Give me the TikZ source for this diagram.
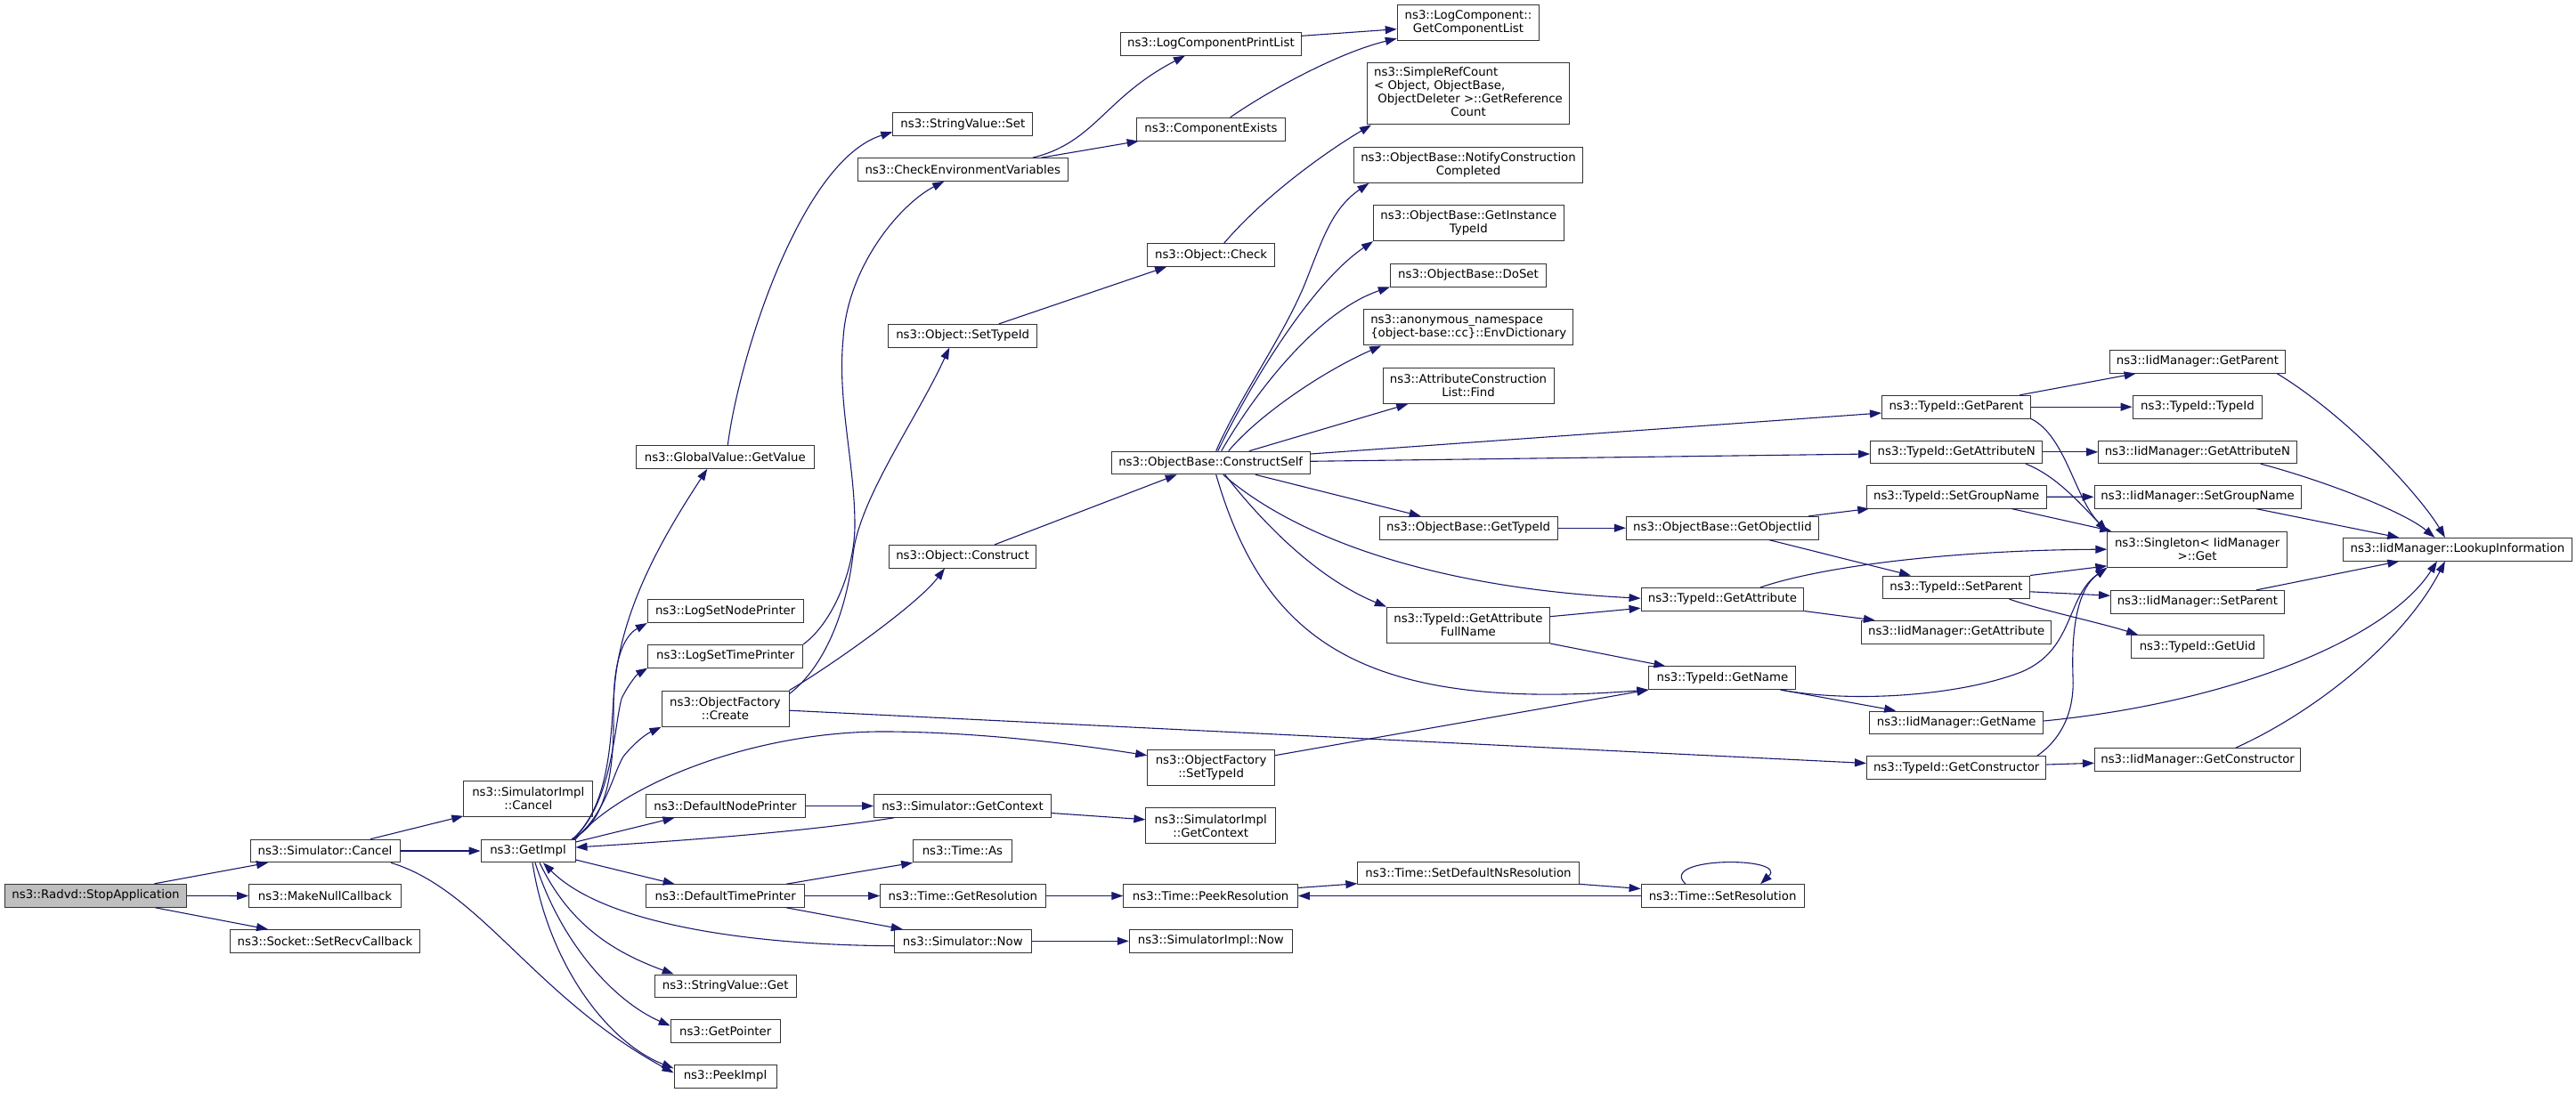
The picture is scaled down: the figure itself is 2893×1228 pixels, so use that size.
\documentclass[tikz,border=0pt]{standalone}
\usepackage{fontspec}
\setmainfont{DejaVu Sans}
\usetikzlibrary{arrows.meta}
\definecolor{mblue}{HTML}{191970}
\definecolor{rootfill}{HTML}{BFBFBF}
\definecolor{nborder}{HTML}{333333}
\newcommand\mynode[6][]{\node[box,minimum width=#4pt,minimum height=#5pt,#1] (#2) at (#3) {#6};}
\begin{document}
\begin{tikzpicture}[x=1pt,y=-1pt,
  boxbase/.style={draw=nborder,line width=1pt,fill=white,inner sep=0pt,font=\fontsize{13.3}{15}\selectfont},
  box/.style={boxbase,align=center},
  lbox/.style={boxbase,align=left},
  root/.style={fill=rootfill},
  edge/.style={draw=mblue,line width=1.1pt,-{Triangle[length=13pt,width=9pt]}}]
\useasboundingbox (0,0) rectangle (2893,1228);
% column 1-3
\mynode[root]{radvd}{107.5,1006.3}{204}{26}{ns3::Radvd::StopApplication}
\mynode{simcancel}{365,956}{168}{25.6}{ns3::Simulator::Cancel}
\mynode{makenull}{365,1006.5}{170.6}{25.6}{ns3::MakeNullCallback}
\mynode{setrecv}{365,1057.3}{213}{25.6}{ns3::Socket::SetRecvCallback}
\mynode{simimplcancel}{593.3,897.2}{145}{40.3}{ns3::SimulatorImpl\\::Cancel}
\mynode{getimpl}{593,956}{106}{25.6}{ns3::GetImpl}
% column 4
\mynode{globalget}{814.3,513.5}{199.7}{25.6}{ns3::GlobalValue::GetValue}
\mynode{lognode}{814.7,686.7}{174.8}{25.6}{ns3::LogSetNodePrinter}
\mynode{logtime}{814.7,737.2}{173.8}{25.6}{ns3::LogSetTimePrinter}
\mynode{ofcreate}{814.5,796.2}{143}{40.3}{ns3::ObjectFactory\\::Create}
\mynode{defnode}{814.5,905.5}{179}{25.6}{ns3::DefaultNodePrinter}
\mynode{deftime}{814.7,1006.5}{177.6}{25.6}{ns3::DefaultTimePrinter}
\mynode{stringget}{814.7,1107.8}{159}{25.6}{ns3::StringValue::Get}
\mynode{getpointer}{814.7,1158.5}{123}{25.6}{ns3::GetPointer}
\mynode{peekimpl}{814.5,1209.3}{115}{25.6}{ns3::PeekImpl}
% column 5
\mynode{stringset}{1081.3,139.8}{157}{25.6}{ns3::StringValue::Set}
\mynode{checkenv}{1081.2,190.5}{236.3}{25.6}{ns3::CheckEnvironmentVariables}
\mynode{objsettypeid}{1081.2,377.2}{167}{25.6}{ns3::Object::SetTypeId}
\mynode{objconstruct}{1081,625.2}{165.5}{25.6}{ns3::Object::Construct}
\mynode{simgetctx}{1081,905.5}{199}{25.6}{ns3::Simulator::GetContext}
\mynode{timeas}{1080.9,956}{110.5}{25.6}{ns3::Time::As}
\mynode{getres}{1081.3,1006.5}{185.4}{25.6}{ns3::Time::GetResolution}
\mynode{simnow}{1081.3,1057.3}{154}{25.6}{ns3::Simulator::Now}
% column 6
\mynode{printlist}{1359.9,49.3}{203.5}{25.6}{ns3::LogComponentPrintList}
\mynode{compexists}{1359.9,145.2}{167.4}{25.6}{ns3::ComponentExists}
\mynode{objcheck}{1360.1,286.5}{142.8}{25.6}{ns3::Object::Check}
\mynode{constructself}{1359.7,520}{223.3}{25.6}{ns3::ObjectBase::ConstructSelf}
\mynode{ofsettypeid}{1360.1,862.7}{142.8}{40.3}{ns3::ObjectFactory\\::SetTypeId}
\mynode{simimplgetctx}{1359.7,927.8}{145.7}{40.3}{ns3::SimulatorImpl\\::GetContext}
\mynode{peekres}{1359.6,1006.5}{195.6}{25.6}{ns3::Time::PeekResolution}
\mynode{simimplnow}{1359.8,1057.3}{183.1}{25.6}{ns3::SimulatorImpl::Now}
% column 7
\mynode{getcomplist}{1649,25.2}{159.5}{40.3}{ns3::LogComponent::\\GetComponentList}
\node[boxbase,minimum width=227pt,minimum height=69.3pt] (simpleref) at (1649,105.3)
  {\begin{tabular}{@{}l@{}}ns3::SimpleRefCount\\{<} Object, ObjectBase,\\\ ObjectDeleter {>}::GetReference\\\multicolumn{1}{@{}c@{}}{Count}\end{tabular}};
\mynode{notify}{1649,185.2}{257.5}{40.3}{ns3::ObjectBase::NotifyConstruction\\Completed}
\mynode{getinst}{1649.3,250.5}{213.6}{40.3}{ns3::ObjectBase::GetInstance\\TypeId}
\mynode{doset}{1649,309.2}{175.3}{25.6}{ns3::ObjectBase::DoSet}
\mynode[lbox]{envdict}{1649.2,367.8}{235}{40.3}{ns3::anonymous\_namespace\\\{object-base::cc\}::EnvDictionary}
\mynode{attrfind}{1649,433.3}{192}{40.3}{ns3::AttributeConstruction\\List::Find}
\mynode{obgettypeid}{1649.1,593.2}{200.2}{25.6}{ns3::ObjectBase::GetTypeId}
\mynode{tgetattrfull}{1648.9,702.3}{183}{40.3}{ns3::TypeId::GetAttribute\\FullName}
\mynode{setdefns}{1649,981}{248.3}{25.6}{ns3::Time::SetDefaultNsResolution}
% column 8
\mynode{obgetiid}{1934.4,593.2}{216}{25.6}{ns3::ObjectBase::GetObjectIid}
\mynode{tgetattr}{1934.4,673.2}{182.7}{25.6}{ns3::TypeId::GetAttribute}
\mynode{tgetname}{1934.4,761.7}{165}{25.6}{ns3::TypeId::GetName}
\mynode{setres}{1934.6,1006.5}{183}{25.6}{ns3::Time::SetResolution}
% column 9
\mynode{tgetparent}{2197,457.2}{167}{25.6}{ns3::TypeId::GetParent}
\mynode{tgetattrn}{2197.2,507.8}{193.2}{25.6}{ns3::TypeId::GetAttributeN}
\mynode{tsetgroup}{2197.2,558.2}{202.4}{25.6}{ns3::TypeId::SetGroupName}
\mynode{tsetparent}{2197,659.8}{165}{25.6}{ns3::TypeId::SetParent}
\mynode{igetattr}{2197.2,710.3}{213.5}{25.6}{ns3::IidManager::GetAttribute}
\mynode{igetname}{2197.2,811.8}{195}{25.6}{ns3::IidManager::GetName}
\mynode{tgetctor}{2197.2,862.5}{201.5}{25.6}{ns3::TypeId::GetConstructor}
% column 10
\mynode{igetparent}{2467.9,406.3}{197.5}{25.6}{ns3::IidManager::GetParent}
\mynode{ttypeid}{2467.9,457.2}{145.7}{25.6}{ns3::TypeId::TypeId}
\mynode{igetattrn}{2467.9,507.8}{222.4}{25.6}{ns3::IidManager::GetAttributeN}
\mynode{isetgroup}{2468.1,558.3}{232.2}{25.6}{ns3::IidManager::SetGroupName}
\mynode{singleton}{2467.6,617.2}{201.6}{40.3}{ns3::Singleton{<} IidManager\\{>}::Get}
\mynode{isetparent}{2467.9,676.2}{194.7}{25.6}{ns3::IidManager::SetParent}
\mynode{tgetuid}{2467.9,726.5}{148.4}{25.6}{ns3::TypeId::GetUid}
\mynode{igetctor}{2468.1,853.5}{231.2}{25.6}{ns3::IidManager::GetConstructor}
% column 11
\mynode{lookup}{2759.9,617.3}{256.2}{25.6}{ns3::IidManager::LookupInformation}

% edges
\draw[edge] ([xshift=66pt]radvd.north) -- ([xshift=-64pt]simcancel.south);
\draw[edge] (radvd.east) -- (makenull.west);
\draw[edge] ([xshift=67pt]radvd.south) -- ([xshift=-64pt]setrecv.north);
\draw[edge] ([xshift=51pt]simcancel.north) -- ([yshift=1pt]simimplcancel.south west);
\draw[edge] (simcancel.east) -- (getimpl.west);
\draw[edge] ([xshift=74pt]simcancel.south) .. controls (540,1000) and (600,1120) .. ([yshift=4pt]peekimpl.west);
\draw[edge] ([xshift=49pt]getimpl.north) .. controls (680,925) and (690,870) .. (689,800) .. controls (688,700) and (740,610) .. ([xshift=-20pt]globalget.south);
\draw[edge] ([xshift=50pt]getimpl.north) .. controls (685,905) and (686,830) .. (690,770) .. controls (693,730) and (705,712) .. (lognode.south west);
\draw[edge] ([xshift=51pt]getimpl.north) .. controls (688,900) and (689,820) .. (698,785) .. controls (705,770) and (715,758) .. (logtime.south west);
\draw[edge] ([xshift=52pt]getimpl.north) .. controls (680,915) and (688,870) .. (700,850) .. controls (712,835) and (725,825) .. (ofcreate.south west);
\draw[edge] (getimpl.north east) .. controls (700,880) and (850,820) .. (1000,822) .. controls (1100,823) and (1200,835) .. ([yshift=14pt]ofsettypeid.west);
\draw[edge] ([yshift=10pt]getimpl.east) -- ([xshift=-57pt]defnode.south);
\draw[edge] ([yshift=-10pt]getimpl.east) -- ([xshift=-57pt]deftime.north);
\draw[edge] ([xshift=13pt]getimpl.south) .. controls (640,1040) and (690,1070) .. ([xshift=22pt]stringget.north west);
\draw[edge] ([xshift=8pt]getimpl.south) .. controls (630,1060) and (690,1125) .. ([yshift=6pt]getpointer.west);
\draw[edge] ([xshift=5pt]getimpl.south) .. controls (615,1080) and (680,1170) .. ([yshift=9pt]peekimpl.west);
\draw[edge] ([xshift=23pt]simgetctx.south west) .. controls (900,935) and (760,945) .. ([yshift=4pt]getimpl.east);
\draw[edge] ([yshift=-5.4pt]simnow.west) .. controls (850,1062) and (680,1040) .. ([xshift=17pt]getimpl.south);
\draw[edge] ([xshift=3pt]globalget.north) .. controls (830,400) and (900,180) .. ([yshift=-8.5pt]stringset.west);
\draw[edge] (logtime.north east) .. controls (935,700) and (960,640) .. (960,590) .. controls (960,520) and (940,450) .. (947,380) .. controls (952,300) and (1010,230) .. ([xshift=-21pt]checkenv.south);
\draw[edge] ([yshift=-4pt]ofcreate.north east) .. controls (925,750) and (950,690) .. (958,623) .. controls (965,560) and (1030,470) .. ([xshift=-15pt]objsettypeid.south);
\draw[edge] (ofcreate.north east) .. controls (930,750) and (1030,680) .. ([xshift=-20pt]objconstruct.south);
\draw[edge] ([yshift=-2pt]ofcreate.east) -- ([yshift=5pt]tgetctor.west);
\draw[edge] ([yshift=14pt]ofsettypeid.east) -- (tgetname.south west);
\draw[edge] ([xshift=36pt]objconstruct.north) -- ([xshift=-38pt]constructself.south);
\draw[edge] ([xshift=40.5pt]objsettypeid.north) -- ([xshift=-50pt]objcheck.south);
\draw[edge] ([xshift=14.6pt]objcheck.north) .. controls (1420,220) and (1490,170) .. ([xshift=5pt]simpleref.south west);
\draw[edge] ([xshift=78.5pt]checkenv.north) .. controls (1230,160) and (1240,110) .. ([xshift=-29pt]printlist.south);
\draw[edge] ([xshift=88pt]checkenv.north) -- ([xshift=3pt]compexists.south west);
\draw[edge] ([yshift=9pt]printlist.east) -- ([yshift=-7.5pt]getcomplist.west);
\draw[edge] ([xshift=21.7pt]compexists.north) .. controls (1420,105) and (1500,60) .. ([yshift=-18pt]getcomplist.west);
\draw[edge] ([xshift=6pt]constructself.north) .. controls (1390,450) and (1440,380) .. (1465,320) .. controls (1485,270) and (1495,235) .. ([xshift=17.6pt]notify.south west);
\draw[edge] ([xshift=8pt]constructself.north) .. controls (1400,440) and (1470,320) .. (getinst.south west);
\draw[edge] ([xshift=12pt]constructself.north) .. controls (1410,440) and (1480,350) .. (doset.south west);
\draw[edge] ([xshift=20pt]constructself.north) .. controls (1410,470) and (1480,420) .. ([xshift=20pt]envdict.south west);
\draw[edge] ([xshift=-69pt]constructself.north east) -- ([xshift=28.7pt]attrfind.south west);
\draw[edge] ([yshift=10pt]constructself.east) -- ([yshift=-6.8pt]tgetparent.west);
\draw[edge] ([yshift=1.7pt]constructself.east) -- ([yshift=-2.2pt]tgetattrn.west);
\draw[edge] ([xshift=-62pt]constructself.south east) -- ([xshift=-53.4pt]obgettypeid.north);
\draw[edge] ([xshift=14pt]constructself.south) .. controls (1450,600) and (1600,660) .. ([yshift=1pt]tgetattr.west);
\draw[edge] ([xshift=16pt]constructself.south) .. controls (1420,590) and (1480,650) .. (tgetattrfull.north west);
\draw[edge] ([xshift=6pt]constructself.south) .. controls (1420,720) and (1530,800) .. (tgetname.south west);
\draw[edge] (obgettypeid.east) -- (obgetiid.west);
\draw[edge] ([xshift=-12pt]obgetiid.north east) -- ([xshift=3.7pt]tsetgroup.south west);
\draw[edge] ([xshift=52pt]obgetiid.south) -- ([xshift=-51pt]tsetparent.north);
\draw[edge] ([yshift=9.6pt]tgetattrfull.east) -- ([yshift=-10pt]tgetattr.west);
\draw[edge] (tgetattrfull.south east) -- ([xshift=19pt]tgetname.north west);
\draw[edge] ([xshift=42.7pt]tgetattr.north) .. controls (2050,635) and (2200,618) .. (singleton.west);
\draw[edge] (tgetattr.south east) -- ([xshift=16pt]igetattr.north west);
\draw[edge] ([xshift=-17.7pt]tgetname.south east) .. controls (2080,790) and (2200,782) .. (2270,755) .. controls (2330,730) and (2320,670) .. (singleton.south west);
\draw[edge] ([xshift=-17.7pt]tgetname.south east) -- ([xshift=30pt]igetname.north west);
\draw[edge] ([xshift=-13pt]tgetparent.north east) -- ([xshift=30pt]igetparent.south west);
\draw[edge] (tgetparent.east) -- (ttypeid.west);
\draw[edge] (tgetparent.south east) .. controls (2320,490) and (2330,560) .. (singleton.north west);
\draw[edge] (tgetattrn.east) -- (igetattrn.west);
\draw[edge] ([xshift=-19.4pt]tgetattrn.south east) .. controls (2310,535) and (2335,565) .. (singleton.north west);
\draw[edge] (tsetgroup.east) -- (isetgroup.west);
\draw[edge] ([xshift=-40pt]tsetgroup.south east) -- ([xshift=5pt]singleton.north west);
\draw[edge] (tsetparent.north east) -- ([yshift=2pt]singleton.south west);
\draw[edge] ([yshift=-5pt]tsetparent.east) -- ([yshift=7pt]isetparent.west);
\draw[edge] ([xshift=-23.5pt]tsetparent.south east) .. controls (2290,685) and (2360,700) .. ([xshift=8pt]tgetuid.north west);
\draw[edge] ([xshift=-10.6pt]tgetctor.north east) .. controls (2315,830) and (2330,800) .. (2328,760) .. controls (2326,700) and (2335,660) .. (singleton.south west);
\draw[edge] ([yshift=3.5pt]tgetctor.east) -- ([yshift=-3.8pt]igetctor.west);
\draw[edge] ([xshift=-10pt]igetparent.south east) .. controls (2640,470) and (2720,560) .. ([xshift=-14pt]lookup.north);
\draw[edge] ([xshift=-41pt]igetattrn.south east) .. controls (2610,540) and (2700,575) .. ([xshift=-25.5pt]lookup.north);
\draw[edge] ([xshift=-51pt]isetgroup.south east) -- ([xshift=63pt]lookup.north west);
\draw[edge] ([xshift=-32pt]isetparent.north east) -- ([xshift=63pt]lookup.south west);
\draw[edge] ([yshift=1.8pt]igetname.east) .. controls (2500,790) and (2680,720) .. ([xshift=-23pt]lookup.south);
\draw[edge] ([xshift=-73.5pt]igetctor.north east) .. controls (2600,800) and (2700,720) .. ([xshift=-14pt]lookup.south);
\draw[edge] (defnode.east) -- (simgetctx.west);
\draw[edge] ([yshift=-8pt]simgetctx.east) -- ([yshift=7pt]simimplgetctx.west);
\draw[edge] ([xshift=-21pt]deftime.north east) -- (timeas.south west);
\draw[edge] (deftime.east) -- (getres.west);
\draw[edge] ([xshift=-21pt]deftime.south east) -- ([xshift=10pt]simnow.north west);
\draw[edge] (getres.east) -- (peekres.west);
\draw[edge] ([yshift=9pt]peekres.east) -- ([yshift=-11.7pt]setdefns.west);
\draw[edge] ([yshift=1pt]setdefns.south east) -- ([yshift=8pt]setres.west);
\draw[edge] (setres.west) -- (peekres.east);
\draw[edge] ([xshift=-41.6pt]setres.north) .. controls (1860,962) and (2010,962) .. ([xshift=42.4pt]setres.north);
\draw[edge] (simnow.east) -- (simimplnow.west);
\end{tikzpicture}
\end{document}
